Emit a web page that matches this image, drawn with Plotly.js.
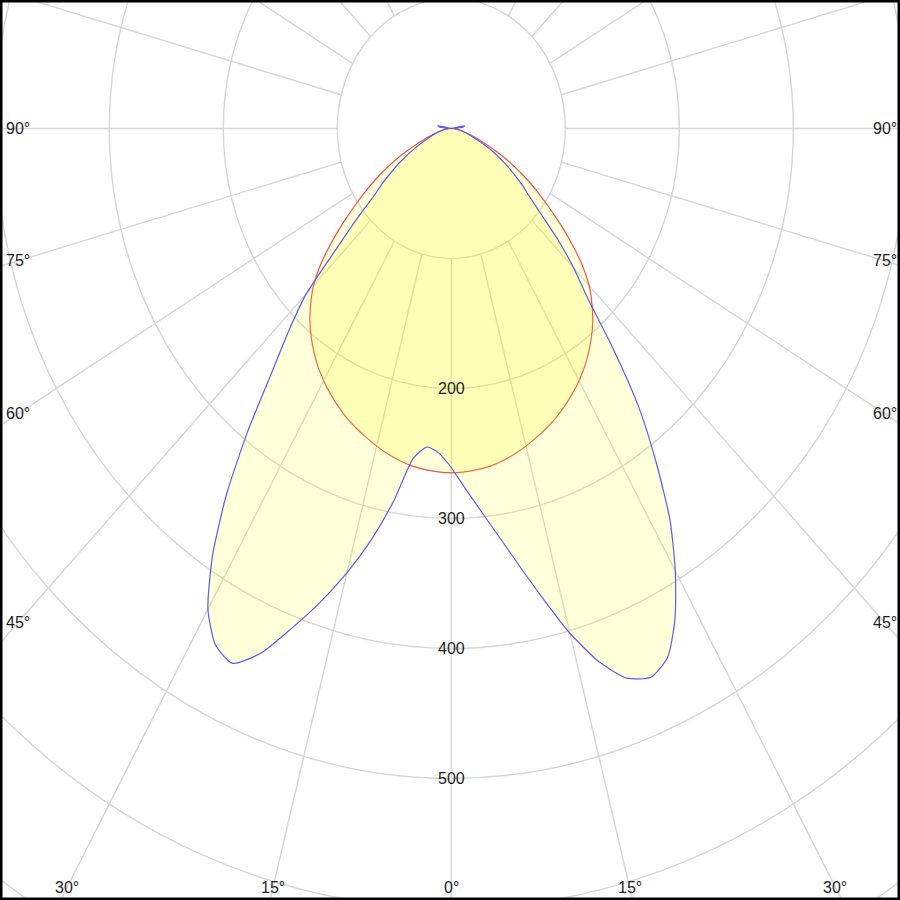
<!DOCTYPE html>
<html>
<head>
<meta charset="utf-8">
<script src="https://cdn.plot.ly/plotly-3.0.1.min.js"></script>
<style>
  html, body { margin: 0; padding: 0; background: #ffffff; }
  #chart { width: 900px; height: 900px; }
</style>
</head>
<body>
<div id="chart"></div>
<script>
// Gamma angles (degrees), negative = left half of the diagram, 0 = straight down
const gammaAngles = [-105,-100,-95,-90,-85,-80,-75,-70,-65,-60,-57.5,-55,-52.5,-50,-47.5,-45,-42.5,-40,-37.5,-35,-32.5,-30,-27.5,-25,-22.5,-20,-17.5,-15,-12.5,-10,-7.5,-5,-2.5,0,2.5,5,7.5,10,12.5,15,17.5,20,22.5,25,27.5,30,32.5,35,37.5,40,42.5,45,47.5,50,52.5,55,57.5,60,65,70,75,80,85,90,95,100,105];

// Red curve (C0-C180 plane) luminous intensity values
const redValues = [0,0,0,0,2,6,14,27,48,74,88,103,120,138,156,171,182.5,193,202,210,217.5,224,230,235.5,240.5,245,249,253,256.5,259.5,262,263.5,264.5,265,264.5,263.5,262,259.5,256.5,253,249,245,240.5,235.5,230,224,217.5,210,202,193,182.5,171,156,138,120,103,88,74,48,27,14,6,2,0,0,0,0];

// Blue curve (C90-C270 plane) luminous intensity values
const blueValues = [0,12,10,3,5,8,13,21,34,52,62,74,86,108,136,180,211,245,293,344,390,427,448,454,437,409,382,354,324,291,256,246,250,261,277,295,316,341,370,402,430,450,457,449,425,393,357,313,270,220,177,152,127,103,87,76,65,55,37,22,13,8,5,3,10,12,0];

// Grid / tick definitions
const ringValues = [100,200,300,400,500,600,700,800];
const ringLabels = [200,300,400,500];
const spokeStep = 15;
const sideLabelAngles = [90,75,60,45];
const bottomLabelAngles = [-30,-15,0,15,30];

const rad = d => d * Math.PI / 180;
function toXY(angles, vals) {
  const x = [], y = [];
  for (let i = 0; i < angles.length; i++) {
    x.push(vals[i] * Math.sin(rad(angles[i])));
    y.push(-vals[i] * Math.cos(rad(angles[i])));
  }
  return {x, y};
}

const red = toXY(gammaAngles, redValues);
const blue = toXY(gammaAngles, blueValues);

const traces = [
  {
    type: 'scatter', mode: 'lines', x: red.x, y: red.y,
    fill: 'toself', fillcolor: 'rgba(255,255,0,0.15)',
    line: {color: '#ef5050', width: 1.2, shape: 'spline', smoothing: 0.6},
    hoverinfo: 'skip'
  },
  {
    type: 'scatter', mode: 'lines', x: blue.x, y: blue.y,
    fill: 'toself', fillcolor: 'rgba(255,255,0,0.15)',
    line: {color: '#5c5cee', width: 1.2, shape: 'spline', smoothing: 0.6},
    hoverinfo: 'skip'
  }
];

const gridColor = '#d6d6d6';
const shapes = [];
ringValues.forEach(r => {
  shapes.push({type: 'circle', xref: 'x', yref: 'y', x0: -r, y0: -r, x1: r, y1: r,
    line: {color: gridColor, width: 1.4}, layer: 'below'});
});
for (let a = 0; a < 360; a += spokeStep) {
  shapes.push({type: 'line', xref: 'x', yref: 'y',
    x0: 100 * Math.sin(rad(a)), y0: -100 * Math.cos(rad(a)),
    x1: 900 * Math.sin(rad(a)), y1: -900 * Math.cos(rad(a)),
    line: {color: gridColor, width: 1.4}, layer: 'below'});
}
// black frame
shapes.push({type: 'rect', xref: 'paper', yref: 'paper', x0: 0, y0: 0, x1: 1, y1: 1,
  line: {color: '#000000', width: 5}, layer: 'above'});

const xRange = [-395.9, 393.6];
const yRange = [-593.5, 98.8];
const labelFont = {family: 'Liberation Sans, Arial, sans-serif', size: 16, color: '#1e1e1e'};

const annotations = [];
ringLabels.forEach(v => {
  annotations.push({x: 0, y: -v, xref: 'x', yref: 'y', text: String(v), showarrow: false,
    font: labelFont, xanchor: 'center', yanchor: 'middle'});
});
const sideX = 380;
sideLabelAngles.forEach(a => {
  const yy = -sideX / Math.tan(rad(a));
  annotations.push({x: -sideX, y: yy, xref: 'x', yref: 'y', text: a + '°', showarrow: false,
    font: labelFont, xanchor: 'center', yanchor: 'middle'});
  annotations.push({x: sideX, y: yy, xref: 'x', yref: 'y', text: a + '°', showarrow: false,
    font: labelFont, xanchor: 'center', yanchor: 'middle'});
});
const bottomY = -583.5;
bottomLabelAngles.forEach(a => {
  annotations.push({x: -bottomY * Math.tan(rad(a)), y: bottomY, xref: 'x', yref: 'y',
    text: Math.abs(a) + '°', showarrow: false, font: labelFont, xanchor: 'center', yanchor: 'middle'});
});

const layout = {
  width: 900, height: 900,
  margin: {l: 0, r: 0, t: 0, b: 0},
  paper_bgcolor: '#ffffff', plot_bgcolor: '#ffffff',
  showlegend: false,
  xaxis: {range: xRange, visible: false, fixedrange: true},
  yaxis: {range: yRange, visible: false, fixedrange: true},
  shapes: shapes,
  annotations: annotations
};

Plotly.newPlot('chart', traces, layout, {staticPlot: true, displayModeBar: false});
</script>
</body>
</html>
